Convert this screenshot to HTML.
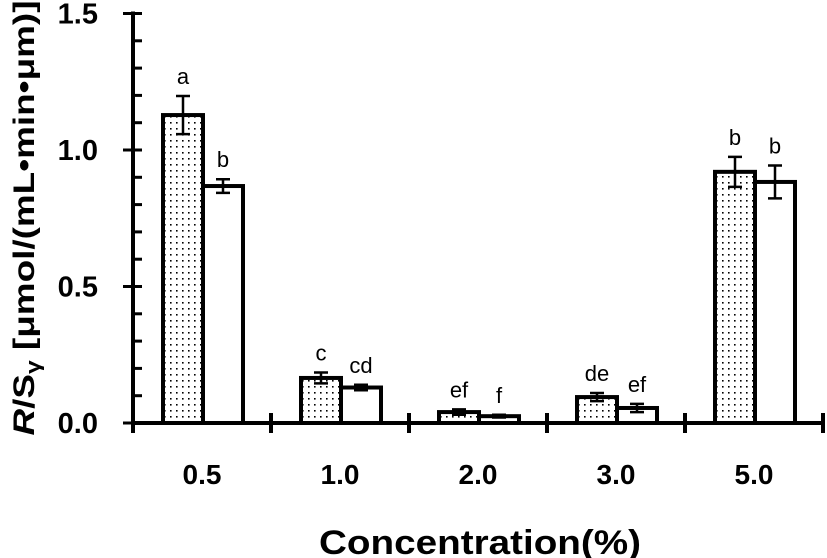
<!DOCTYPE html>
<html><head><meta charset="utf-8"><style>body{margin:0;background:#fff}svg{display:block}text{font-family:"Liberation Sans",Arial,sans-serif}</style></head>
<body>
<svg id="chart" width="827" height="558" viewBox="0 0 827 558" xmlns="http://www.w3.org/2000/svg">
<defs><pattern id="dots" width="6" height="6" patternUnits="userSpaceOnUse"><rect width="6" height="6" fill="#fff"/><rect x="2" y="2" width="1.6" height="1.6" fill="#000"/></pattern></defs>
<g id="plot"></g>
<text transform="translate(34,218) rotate(-90)" text-anchor="middle" font-size="30" font-weight="bold" textLength="435" lengthAdjust="spacingAndGlyphs"><tspan font-style="italic">R</tspan>/S<tspan font-size="20" dy="6">γ</tspan><tspan dy="-6"> [μmol/(mL•min•μm)]</tspan></text>
<text x="480" y="554" text-anchor="middle" font-size="34" font-weight="bold" textLength="322" lengthAdjust="spacingAndGlyphs">Concentration(%)</text>
</svg>
<script>
const categories = ["0.5","1.0","2.0","3.0","5.0"];
const seriesA = [1.128, 0.165, 0.04, 0.095, 0.92];
const errA = [0.07, 0.02, 0.01, 0.015, 0.055];
const seriesB = [0.868, 0.13, 0.025, 0.055, 0.883];
const errB = [0.025, 0.01, 0.005, 0.015, 0.06];
const lettersA = ["a","c","ef","de","b"];
const lettersB = ["b","cd","f","ef","b"];
const yTicks = ["0.0","0.5","1.0","1.5"];

const NS="http://www.w3.org/2000/svg";
const g=document.getElementById('plot');
const x0=133, catW=138, y0=423, pxPerUnit=273;
const yS=v=>y0-v*pxPerUnit;
const xC=i=>x0+i*catW;
function mk(tag,attrs){const e=document.createElementNS(NS,tag);for(const k in attrs)e.setAttribute(k,attrs[k]);g.appendChild(e);return e;}

// axes
let ax=mk('line',{x1:x0,y1:y0,x2:x0+catW*categories.length,y2:y0,stroke:'#000','stroke-width':4});


let ay=mk('line',{x1:x0,y1:yS(1.5)-2,x2:x0,y2:y0+10,stroke:'#000','stroke-width':4});


for(let k=0;k<=15;k++){
  const v=k/10, y=yS(v), major=k%5===0;
  const t=mk('line',{x1:major?x0-10:x0,y1:y,x2:x0+9,y2:y,stroke:'#000','stroke-width':3});
  
  
}
yTicks.forEach(s=>{
  const t=mk('text',{x:98,y:yS(parseFloat(s))+10,'text-anchor':'end','font-size':29,'font-weight':'bold'});
  t.textContent=s;
  
  
});
for(let i=0;i<=categories.length;i++){
  const t=mk('line',{x1:xC(i),y1:y0-10,x2:xC(i),y2:y0+10,stroke:'#000','stroke-width':4});
  
  
}
categories.forEach((c,i)=>{
  const t=mk('text',{x:xC(i)+catW/2,y:484,'text-anchor':'middle','font-size':28,'font-weight':'bold'});
  t.textContent=c;
  
  
  const sets=[[seriesA,errA,lettersA,'url(#dots)',30,'bar-dotted'],[seriesB,errB,lettersB,'#fff',70,'bar-white']];
  sets.forEach(([vals,errs,lets,fill,off,nm])=>{
    const bx=xC(i)+off, w=40, v=vals[i], e=errs[i];
    const r=mk('rect',{x:bx,y:yS(v),width:w,height:y0-yS(v),fill:fill,stroke:'#000','stroke-width':4});
    
    
    const cx=bx+w/2, yt=yS(v+e), yb=yS(v-e);
    const eb=mk('path',{d:`M${cx-7},${yt}H${cx+7}M${cx},${yt}V${yb}M${cx-7},${yb}H${cx+7}`,stroke:'#000','stroke-width':2.5,fill:'none'});
    
    
    const lt=mk('text',{x:cx,y:yt-12,'text-anchor':'middle','font-size':22});
    lt.textContent=lets[i];
    
    
  });
});
</script>
</body></html>
